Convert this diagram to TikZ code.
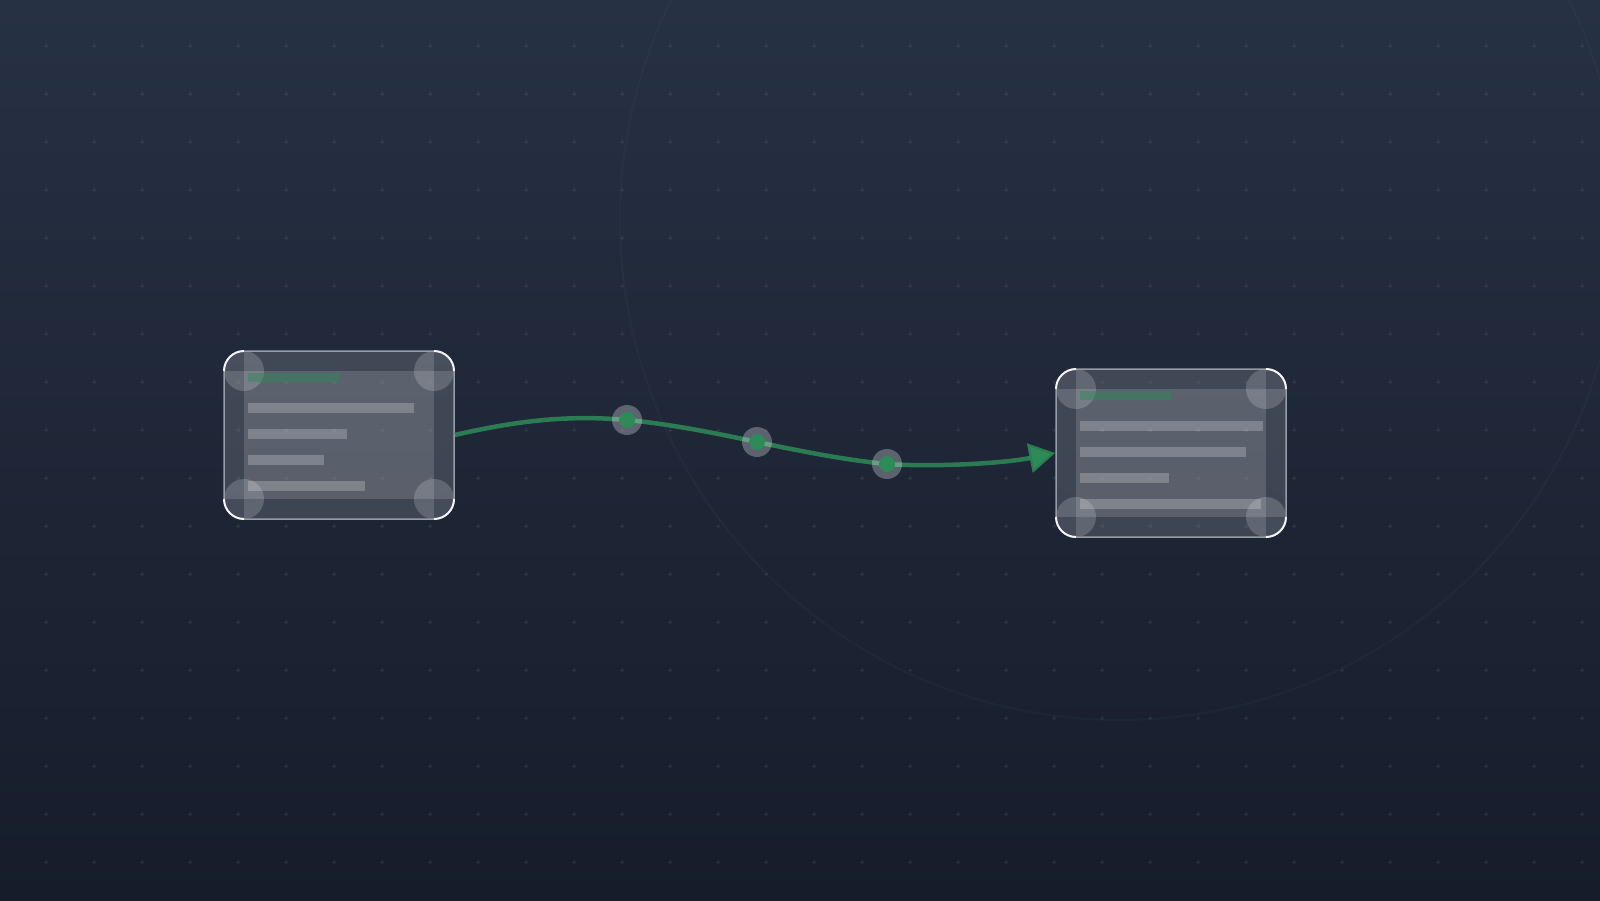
\documentclass[tikz,border=0pt]{standalone}
\usetikzlibrary{arrows.meta}

\definecolor{bgtop}{RGB}{39,49,68}
\definecolor{bgbot}{RGB}{22,28,42}
\definecolor{flow}{RGB}{46,139,87}
\definecolor{rim}{RGB}{150,156,166}
\definecolor{ringc}{RGB}{70,120,130}

\tikzset{
	panel/.style={fill=white, fill opacity=0.145},
	knob/.style={fill=white, fill opacity=0.18},
	bar/.style={fill=white, fill opacity=0.22},
	head/.style={fill=flow, fill opacity=0.45},
	card/.style={rectangle, rounded corners=20pt, draw=rim, line width=1.5pt,
		minimum width=230pt, minimum height=168pt, inner sep=0pt},
	corner/.style={draw=white, line width=2pt, rounded corners=20pt, opacity=0.9},
	halo/.style={fill=white, fill opacity=0.28},
	link/.style={draw=flow, line width=4.5pt, draw opacity=0.85},
	dot/.style={draw=white, opacity=0.08, line width=1pt}
}

\begin{document}
\begin{tikzpicture}[x=1pt, y=-1pt]
	\useasboundingbox (0,0) rectangle (1600,900);
	\shade [top color=bgtop, bottom color=bgbot] (0,0) rectangle (1600,900);

	\foreach \i in {0,...,32}
		\foreach \j in {0,...,17}
			\draw [dot] ({46+48*\i-2},{46+48*\j}) -- ++(4,0) ++(-2,-2) -- ++(0,4);

	\draw [ringc, opacity=0.08, line width=2pt] (1120,220) circle (500);

	% source card
	\begin{scope}[shift={(224,351)}]
		\fill [panel] (20,0) rectangle (210,168);
		\fill [panel] (0,20) rectangle (230,148);
		\foreach \cx/\cy in {20/20, 210/20, 20/148, 210/148}
			\fill [knob] (\cx,\cy) circle (20);
		\fill [head] (24,22) rectangle (115,31);
		\foreach \len/\top in {190/52, 123/78, 100/104, 141/130}
			\fill [bar] (24,\top) rectangle (\len,{\top+10});
		\node [card] (src) at (115,84) {};
		\draw [corner] (0,20) |- (20,0);
		\draw [corner] (210,0) -| (230,20);
		\draw [corner] (230,148) |- (210,168);
		\draw [corner] (20,168) -| (0,148);
	\end{scope}

	% target card
	\begin{scope}[shift={(1056,369)}]
		\fill [panel] (20,0) rectangle (210,168);
		\fill [panel] (0,20) rectangle (230,148);
		\foreach \cx/\cy in {20/20, 210/20, 20/148, 210/148}
			\fill [knob] (\cx,\cy) circle (20);
		\fill [head] (24,22) rectangle (115,31);
		\foreach \len/\top in {207/52, 190/78, 113/104, 205/130}
			\fill [bar] (24,\top) rectangle (\len,{\top+10});
		\node [card] (dst) at (115,84) {};
		\draw [corner] (0,20) |- (20,0);
		\draw [corner] (210,0) -| (230,20);
		\draw [corner] (230,148) |- (210,168);
		\draw [corner] (20,168) -| (0,148);
	\end{scope}

	\coordinate (w1) at (627,420);
	\coordinate (w2) at (757,442);
	\coordinate (w3) at (887,464);

	\draw [link, -{Triangle[length=26pt, width=29pt]}] (src.east)
		.. controls (520,420) and (570,415) .. (w1)
		.. controls (670,424) and (715,433) .. (w2)
		.. controls (800,451) and (845,460) .. (w3)
		.. controls (930,467) and (1000,464) .. (dst.west);

	\foreach \w in {w1,w2,w3} {
		\fill [halo] (\w) circle (15);
		\fill [flow] (\w) circle (8);
	}
\end{tikzpicture}
\end{document}
